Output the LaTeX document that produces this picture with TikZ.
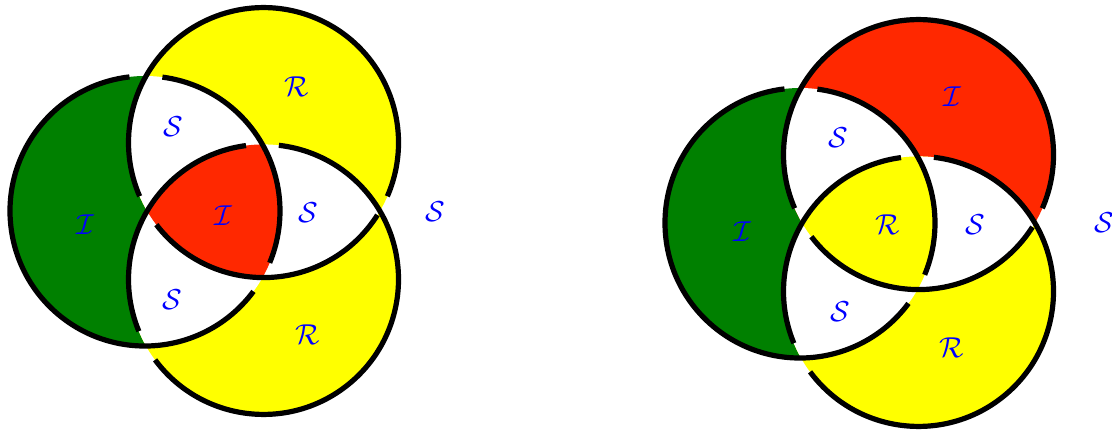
\documentclass[tikz,border=0pt]{standalone}
\definecolor{ringgreen}{RGB}{0,128,0}
\definecolor{ringred}{RGB}{255,40,0}
\definecolor{ringyellow}{RGB}{255,255,0}
\begin{document}
\begin{tikzpicture}[
  x=0.5pt, y=0.5pt,
  font=\fontsize{14.4}{17}\selectfont,
  ring/.style={draw=black, line width=2.6pt},
  lab/.style={text=blue, inner sep=0pt},
]
\useasboundingbox (0,0) rectangle (1112,-430);
\providecommand{\borromeo}[5]{%
  \begin{scope}[shift={#1}]
    \coordinate (cL) at (180:79);
    \coordinate (cT) at (60:79);
    \coordinate (cB) at (-60:79);
    \fill[#2] (cL) circle (135);
    \fill[#3] (cT) circle (135);
    \fill[#4] (cB) circle (135);
    \begin{scope}
      \clip (cL) circle (135);
      \fill[white] (cT) circle (135);
      \fill[white] (cB) circle (135);
    \end{scope}
    \begin{scope}
      \clip (cT) circle (135);
      \fill[white] (cB) circle (135);
    \end{scope}
    \begin{scope}
      \clip (cL) circle (135);
      \clip (cT) circle (135);
      \fill[#5] (cB) circle (135);
    \end{scope}
    % under-crossings left open
    \foreach \c/\a/\b in {cL/-22.56/82.6, cL/96.6/323.44,
                          cT/-23.44/203.44, cT/217.44/327.56,
                          cB/97.45/202.56, cB/216.56/443.45} {
      \draw[ring] (\c) ++(\a:135) arc[start angle=\a, end angle=\b, radius=135];
    }
  \end{scope}
}
\borromeo{(224,-211)}{ringgreen}{ringyellow}{ringyellow}{ringred}
\borromeo{(879,-223)}{ringgreen}{ringred}{ringyellow}{ringyellow}
% left labels
\node[lab] (lI1) at (85,-225) {$\mathcal{I}$};
\node[lab] (lS1) at (173,-127) {$\mathcal{S}$};
\node[lab] (lR1) at (297,-87) {$\mathcal{R}$};
\node[lab] (lI2) at (223,-216) {$\mathcal{I}$};
\node[lab] (lS2) at (308,-213) {$\mathcal{S}$};
\node[lab] (lS3) at (172,-300) {$\mathcal{S}$};
\node[lab] (lR2) at (308,-335) {$\mathcal{R}$};
\node[lab] (lS0) at (435,-212) {$\mathcal{S}$};
% right labels
\node[lab] (rI1) at (742,-232) {$\mathcal{I}$};
\node[lab] (rS1) at (838,-138) {$\mathcal{S}$};
\node[lab] (rI2) at (952,-97) {$\mathcal{I}$};
\node[lab] (rR1) at (888,-225) {$\mathcal{R}$};
\node[lab] (rS2) at (975,-225) {$\mathcal{S}$};
\node[lab] (rS3) at (840,-312) {$\mathcal{S}$};
\node[lab] (rR2) at (952,-348) {$\mathcal{R}$};
\node[lab] (rS0) at (1104,-223) {$\mathcal{S}$};
\end{tikzpicture}
\end{document}
